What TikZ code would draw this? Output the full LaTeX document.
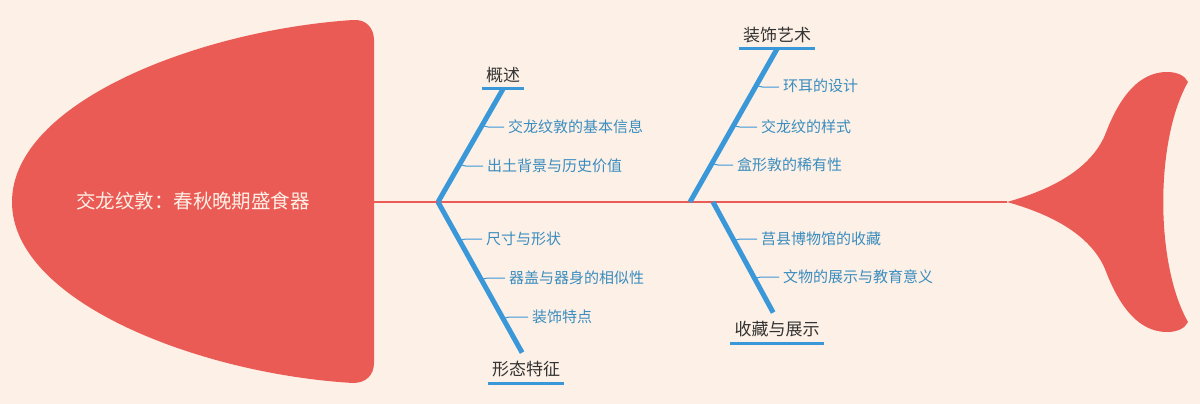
\documentclass[tikz,border=0pt]{standalone}
\usepackage{fontspec}
\setmainfont{Noto Sans CJK SC}
\definecolor{bgc}{HTML}{FDF0E6}
\definecolor{fishred}{HTML}{EB5B55}
\definecolor{bonebl}{HTML}{3A98D8}
\definecolor{subbl}{HTML}{3A8DBF}
\definecolor{labgray}{HTML}{333333}

\begin{document}
\begin{tikzpicture}[x=1pt,y=-1pt]
	\tikzstyle{title}=[text=bgc,font=\fontsize{19.5}{20}\selectfont,inner sep=0pt]
	\tikzstyle{group}=[text=labgray,font=\fontsize{17}{18}\selectfont,text height=12pt,text depth=3pt,inner xsep=4pt,inner ysep=4pt,anchor=south]
	\tikzstyle{item}=[text=subbl,font=\fontsize{15}{16}\selectfont,text height=12pt,text depth=2pt,inner sep=4pt,anchor=west]
	\tikzstyle{bone}=[draw=bonebl,line width=5pt]
	\tikzstyle{uline}=[draw=bonebl,line width=3pt]
	\tikzstyle{twig}=[draw=bonebl,line width=1pt]
	\tikzstyle{spine}=[draw=fishred,line width=2pt]

	\fill[bgc] (0,0) rectangle (1200,404);
	% head and tail
	\fill[fishred] (353,20) .. controls (366,19) and (374,28) .. (374,40) -- (374,363)
		.. controls (374,375) and (366,383) .. (353,383)
		.. controls (200,374) and (12,302) .. (12,202)
		.. controls (12,102) and (200,30) .. (353,20) -- cycle;
	\fill[fishred] (1007,202) .. controls (1050,190) and (1090,170) .. (1105,135)
		.. controls (1120,95) and (1140,72) .. (1167,72)
		.. controls (1178,72) and (1185,76) .. (1188,82)
		.. controls (1155,140) and (1155,264) .. (1188,322)
		.. controls (1185,328) and (1178,332) .. (1167,332)
		.. controls (1140,332) and (1120,309) .. (1105,269)
		.. controls (1090,234) and (1050,214) .. (1007,202) -- cycle;

	\node [title] (t) at (193,201) {交龙纹敦：春秋晚期盛食器};
	\coordinate (h) at (374,202);
	\coordinate (k) at (1007,202);
	\path[spine] (h) -- (k);

	\coordinate (j1) at (438,202);
	\coordinate (j2) at (690,202);
	\coordinate (j3) at (713,202);

	\node [group] (ga) at (503,89) {概述};
	\node [group] (gb) at (526,383) {形态特征};
	\node [group] (gc) at (777,49) {装饰艺术};
	\node [group] (gd) at (777,343) {收藏与展示};

	\path[uline] (ga.south west) -- (ga.south east);
	\path[uline] (gb.south west) -- (gb.south east);
	\path[uline] (gc.south west) -- (gc.south east);
	\path[uline] (gd.south west) -- (gd.south east);

	\path[bone] (j1) -- (ga.south);
	\path[bone,shorten >=8pt] (j1) -- (gb.north);
	\path[bone] (j2) -- (gc.south);
	\path[bone,shorten >=8pt] (j3) -- (gd.north);

	\node [item] (a1) at (504,127) {交龙纹敦的基本信息};
	\node [item] (a2) at (483,166) {出土背景与历史价值};
	\node [item] (b1) at (482,239) {尺寸与形状};
	\node [item] (b2) at (505,278) {器盖与器身的相似性};
	\node [item] (b3) at (528,317) {装饰特点};
	\node [item] (c1) at (779,87) {环耳的设计};
	\node [item] (c2) at (757,127) {交龙纹的样式};
	\node [item] (c3) at (733,165) {盒形敦的稀有性};
	\node [item] (d1) at (757,239) {莒县博物馆的收藏};
	\node [item] (d2) at (779,277) {文物的展示与教育意义};

	\path[twig] (intersection of j1--ga.south and a1.west--a1.east) ++(0,-4) to[out=-65,in=180] ++(7,4) -- (a1.west);
	\path[twig] (intersection of j1--ga.south and a2.west--a2.east) ++(0,-4) to[out=-65,in=180] ++(7,4) -- (a2.west);
	\path[twig] (intersection of j1--gb.north and b1.west--b1.east) ++(0,4) to[out=65,in=180] ++(7,-4) -- (b1.west);
	\path[twig] (intersection of j1--gb.north and b2.west--b2.east) ++(0,4) to[out=65,in=180] ++(7,-4) -- (b2.west);
	\path[twig] (intersection of j1--gb.north and b3.west--b3.east) ++(0,4) to[out=65,in=180] ++(7,-4) -- (b3.west);
	\path[twig] (intersection of j2--gc.south and c1.west--c1.east) ++(0,-4) to[out=-65,in=180] ++(7,4) -- (c1.west);
	\path[twig] (intersection of j2--gc.south and c2.west--c2.east) ++(0,-4) to[out=-65,in=180] ++(7,4) -- (c2.west);
	\path[twig] (intersection of j2--gc.south and c3.west--c3.east) ++(0,-4) to[out=-65,in=180] ++(7,4) -- (c3.west);
	\path[twig] (intersection of j3--gd.north and d1.west--d1.east) ++(0,4) to[out=65,in=180] ++(7,-4) -- (d1.west);
	\path[twig] (intersection of j3--gd.north and d2.west--d2.east) ++(0,4) to[out=65,in=180] ++(7,-4) -- (d2.west);
\end{tikzpicture}
\end{document}
